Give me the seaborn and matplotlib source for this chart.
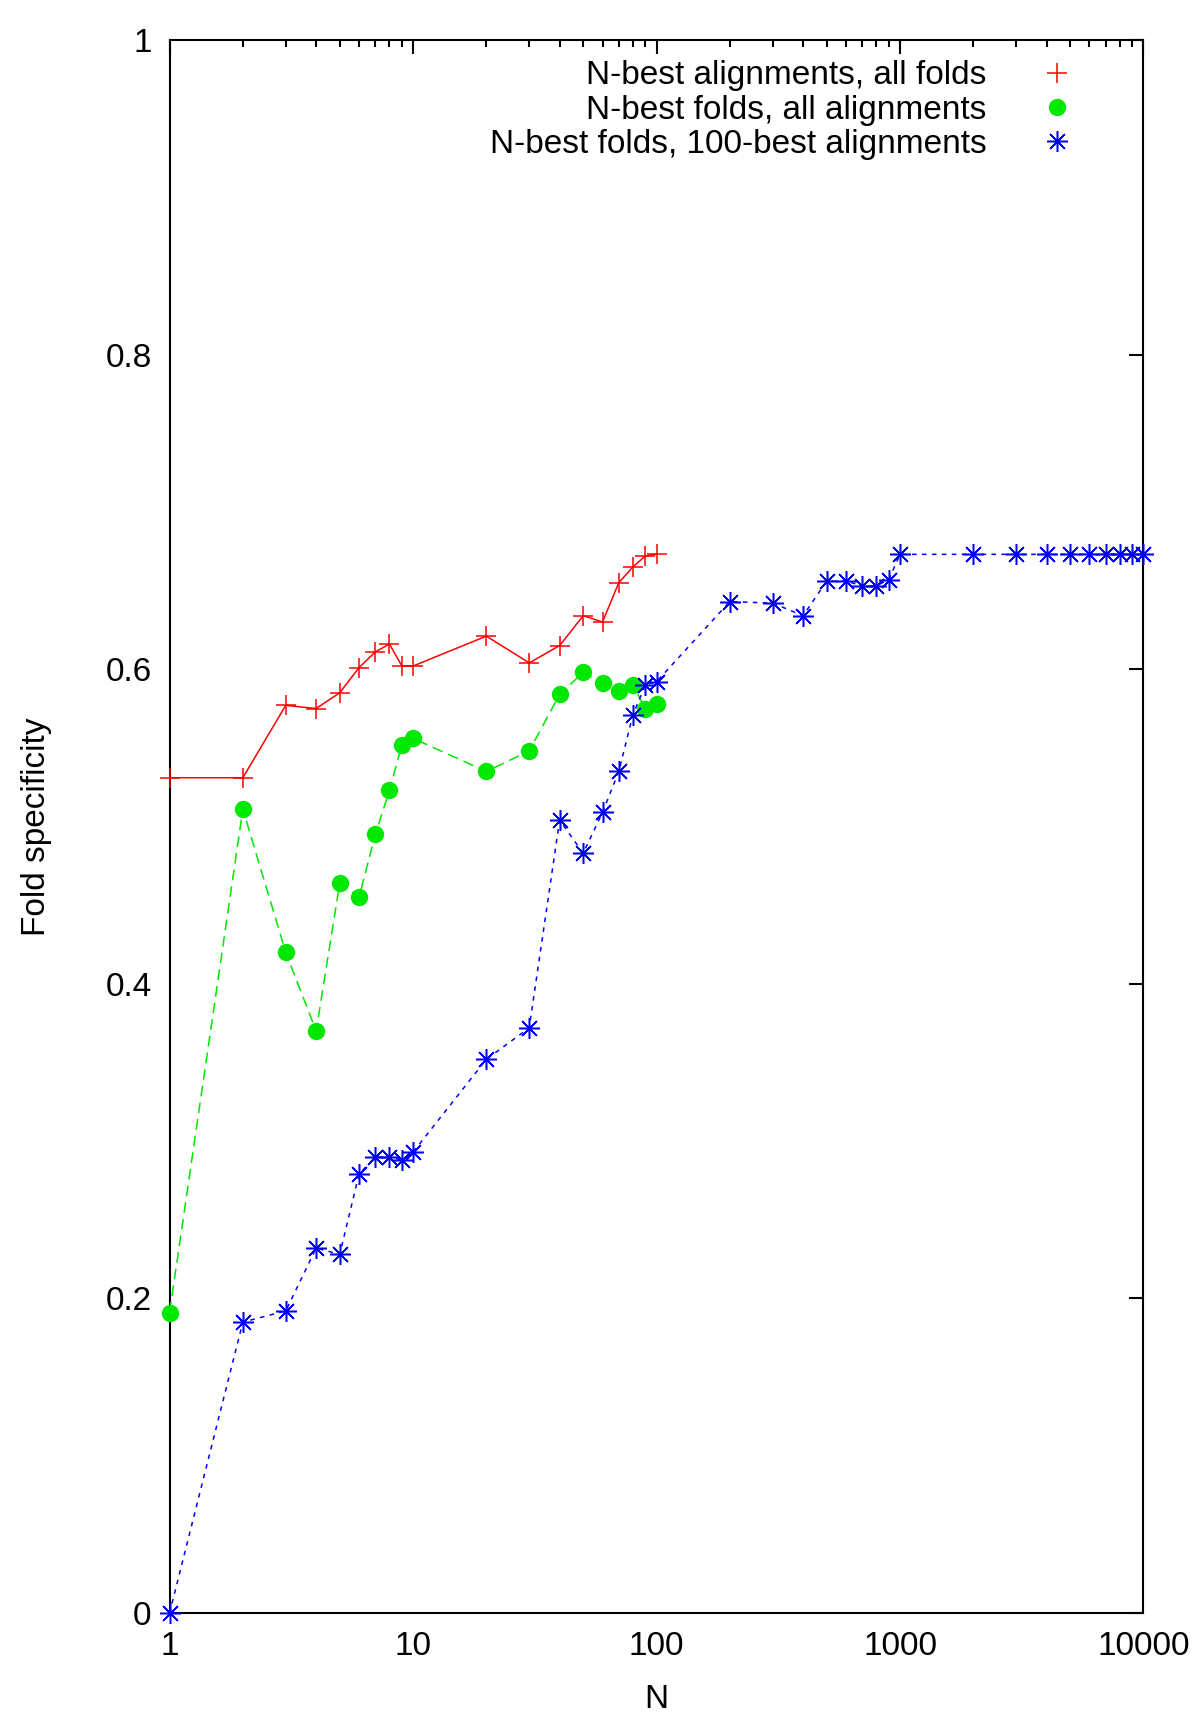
import numpy as np
import pandas as pd
import matplotlib
matplotlib.use("Agg")
import matplotlib.pyplot as plt
from matplotlib.lines import Line2D
from matplotlib.ticker import FixedLocator, FixedFormatter, LogLocator, NullFormatter
import seaborn as sns

# data
n_small = [1, 2, 3, 4, 5, 6, 7, 8, 9, 10, 20, 30, 40, 50, 60, 70, 80, 90, 100]
align_all_folds = [0.531, 0.531, 0.577, 0.575, 0.585, 0.601, 0.611, 0.616, 0.602, 0.602,
                   0.621, 0.604, 0.615, 0.634, 0.630, 0.655, 0.665, 0.672, 0.673]
folds_all_align = [0.191, 0.511, 0.420, 0.370, 0.464, 0.455, 0.495, 0.523, 0.552, 0.556,
                   0.535, 0.548, 0.584, 0.598, 0.591, 0.586, 0.590, 0.575, 0.578]

n_large = [1, 2, 3, 4, 5, 6, 7, 8, 9, 10, 20, 30, 40, 50, 60, 70, 80, 90, 100,
           200, 300, 400, 500, 600, 700, 800, 900, 1000,
           2000, 3000, 4000, 5000, 6000, 7000, 8000, 9000, 10000]
folds_100_align = [0.0, 0.185, 0.192, 0.232, 0.228, 0.279, 0.290, 0.290, 0.288, 0.293,
                   0.352, 0.372, 0.504, 0.483, 0.509, 0.535, 0.571, 0.590, 0.592,
                   0.643, 0.642, 0.634, 0.656, 0.656, 0.653, 0.653, 0.657, 0.673,
                   0.673, 0.673, 0.673, 0.673, 0.673, 0.673, 0.673, 0.673, 0.673]

labels = ["N-best alignments, all folds",
          "N-best folds, all alignments",
          "N-best folds, 100-best alignments"]

red, green, blue = "#ff0000", "#00e800", "#0000ff"
star = (8, 2, 0)

sns.set_style("white")
plt.rcParams["font.family"] = ["Liberation Sans", "DejaVu Sans"]
plt.rcParams["font.size"] = 24
for key in ["text.color", "axes.labelcolor", "xtick.color", "ytick.color"]:
    plt.rcParams[key] = "black"

fig = plt.figure(figsize=(12, 17.14), dpi=100)
ax = fig.add_axes([0.1413, 0.0589, 0.8116, 0.9178])

df_red = pd.DataFrame({"N": n_small, "spec": align_all_folds})
df_green = pd.DataFrame({"N": n_small, "spec": folds_all_align})
df_blue = pd.DataFrame({"N": n_large, "spec": folds_100_align})

sns.lineplot(data=df_red, x="N", y="spec", ax=ax, color=red, lw=1.1,
             marker="+", markersize=14, markeredgewidth=1.1, markeredgecolor=red,
             sort=False, estimator=None, clip_on=False, zorder=3)
sns.lineplot(data=df_green, x="N", y="spec", ax=ax, color=green, lw=1.1,
             linestyle=(0, (7, 4)), marker="o", markersize=12.5,
             markeredgewidth=0, markerfacecolor=green, sort=False,
             estimator=None, clip_on=False, zorder=4)
sns.lineplot(data=df_blue, x="N", y="spec", ax=ax, color=blue, lw=1.1,
             linestyle=(0, (3, 3.5)), marker=star, markersize=15,
             markeredgewidth=1.1, markeredgecolor=blue, sort=False,
             estimator=None, clip_on=False, zorder=5)

ax.set_xscale("log")
ax.set_xlim(1, 10000)
ax.set_ylim(0, 1)

ax.xaxis.set_major_locator(FixedLocator([1, 10, 100, 1000, 10000]))
ax.xaxis.set_major_formatter(FixedFormatter(["1", "10", "100", "1000", "10000"]))
ax.xaxis.set_minor_locator(LogLocator(base=10, subs=np.arange(2, 10), numticks=20))
ax.xaxis.set_minor_formatter(NullFormatter())
ax.yaxis.set_major_locator(FixedLocator([0, 0.2, 0.4, 0.6, 0.8, 1.0]))
ax.yaxis.set_major_formatter(FixedFormatter(["0", "0.2", "0.4", "0.6", "0.8", "1"]))

ax.tick_params(which="both", direction="in", top=True, right=True,
               width=1.5, colors="black", labelsize=24)
ax.tick_params(which="major", length=10, pad=13)
ax.tick_params(which="minor", length=5)
for s in ax.spines.values():
    s.set_linewidth(1.5)
    s.set_color("black")

ax.set_xlabel("N", fontsize=24, labelpad=16)
ax.set_ylabel("Fold specificity", fontsize=24, labelpad=38)

handles = [
    Line2D([], [], color=red, linestyle="none", marker="+", markersize=14,
           markeredgewidth=1.1, markeredgecolor=red),
    Line2D([], [], color=green, linestyle="none", marker="o", markersize=12.5,
           markeredgewidth=0, markerfacecolor=green),
    Line2D([], [], color=blue, linestyle="none", marker=star, markersize=15,
           markeredgewidth=1.1, markeredgecolor=blue),
]
ax.legend(handles, labels, loc="upper right", bbox_to_anchor=(0.928, 0.987),
          frameon=False, markerfirst=False, handlelength=1.0, handletextpad=1.6,
          labelspacing=0.1, borderpad=0, borderaxespad=0, fontsize=24)

fig.savefig("out.png", dpi=100)
